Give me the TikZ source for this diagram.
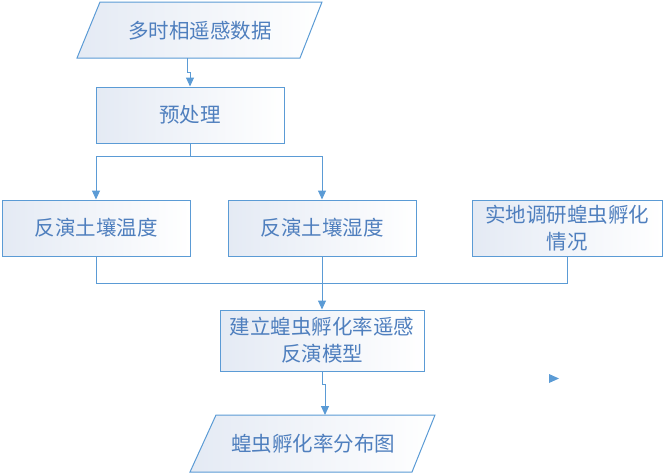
\documentclass[tikz,border=0pt]{standalone}
\usepackage{fontspec}
\newfontfamily\cjk{Noto Sans CJK SC}
\usetikzlibrary{arrows.meta}
\definecolor{bline}{HTML}{5B9BD5}
\definecolor{btext}{HTML}{4F7FBE}
\definecolor{bfill}{HTML}{E4EAF4}
\tikzset{
  box/.style={draw=bline, line width=1pt, left color=bfill, right color=white,
    minimum width=188pt, minimum height=56pt, inner sep=2pt,
    text=btext, align=center, font=\cjk\fontsize{20.5}{27}\selectfont},
  para/.style={draw=bline, line width=1pt, left color=bfill, right color=white},
  ptext/.style={text=btext, font=\cjk\fontsize{20.5}{27}\selectfont, inner sep=0pt},
  conn/.style={draw=bline, line width=1pt},
  arr/.style={conn, -{Triangle[width=8pt,length=9pt]}}
}
\begin{document}
\begin{tikzpicture}[x=1pt,y=-1pt]
\useasboundingbox (0,0) rectangle (663,474);
% top parallelogram
\path[para] (100,2) -- (322,2) -- (300,58) -- (77,58) -- cycle;
\node[ptext] (src) at (200,31) {多时相遥感数据};
\coordinate (srcout) at (187,58);
% boxes
\node[box] (pre) at (190,115) {预处理};
\node[box] (temp) at (96,228) {反演土壤温度};
\node[box] (hum) at (322,228) {反演土壤湿度};
\node[box, minimum width=190pt] (field) at (567,228) {实地调研蝗虫孵化\\情况};
\node[box, minimum width=204pt, minimum height=61pt] (model) at (322,340.5) {建立蝗虫孵化率遥感\\反演模型};
% bottom parallelogram
\path[para] (216,415) -- (435,415) -- (412,472) -- (190,472) -- cycle;
\node[ptext] (res) at (313,444) {蝗虫孵化率分布图};
\coordinate (resin) at (325,415);
% connectors
\draw[arr] (srcout) -- ++(0,14) -| (pre.north);
\draw[arr] (pre.south) -- ++(0,13) -| (temp.north);
\draw[arr] (pre.south) -- ++(0,13) -| (hum.north);
\draw[conn] (temp.south) -- ++(0,27) -| (field.south);
\draw[arr] (hum.south) -- (model.north);
\draw[arr] (model.south) -- ++(0,13) -| (resin);
% stray arrowhead
\fill[bline] (549,374) -- (559,378.5) -- (549,383) -- cycle;
\end{tikzpicture}
\end{document}
